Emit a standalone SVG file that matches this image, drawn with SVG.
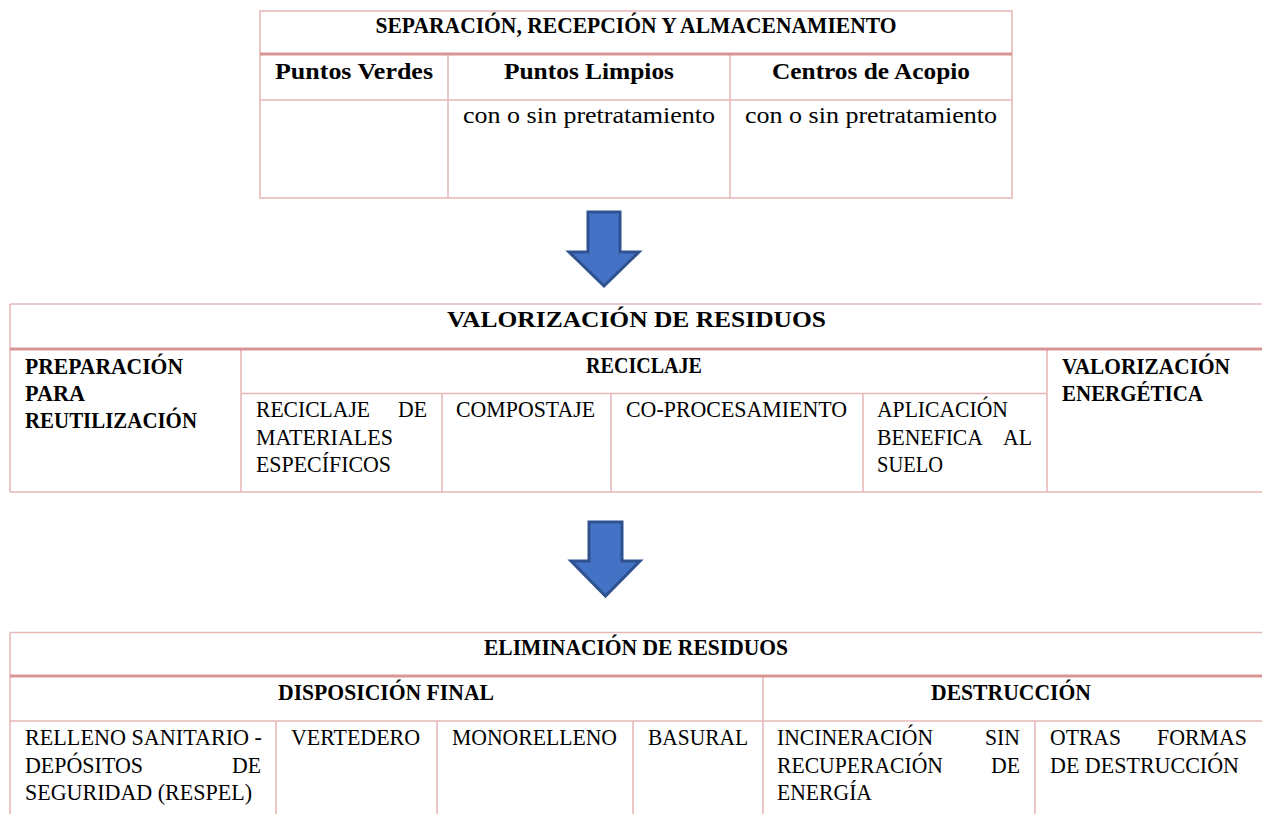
<svg xmlns="http://www.w3.org/2000/svg" width="1262" height="814" viewBox="0 0 1262 814">
<style>
.b{fill:none;stroke:#E6B9B8;stroke-width:1.6}
.t{fill:none;stroke:#D99594;stroke-width:3}
.h{font-family:"Liberation Serif","Times New Roman",serif;font-weight:bold;font-size:23.5px;fill:#000}
.r{font-family:"Liberation Serif","Times New Roman",serif;font-size:23.5px;fill:#000}
.m{text-anchor:middle}
.e{text-anchor:end}
.arrow{fill:#4472C4;stroke:#2F528F;stroke-width:3;stroke-linejoin:miter}
</style>
<rect width="1262" height="814" fill="#fff"/>

<g id="separacion">
<rect class="b" x="260" y="11" width="752" height="187"/>
<line class="b" x1="260" y1="100" x2="1012" y2="100"/>
<line class="b" x1="448" y1="54" x2="448" y2="198"/>
<line class="b" x1="730" y1="54" x2="730" y2="198"/>
<line class="t" x1="260" y1="54" x2="1012" y2="54"/>
<text class="h m" x="636" y="33" textLength="521" lengthAdjust="spacingAndGlyphs">SEPARACIÓN, RECEPCIÓN Y ALMACENAMIENTO</text>
<text class="h" x="275" y="79" textLength="158" lengthAdjust="spacingAndGlyphs">Puntos Verdes</text>
<text class="h m" x="589" y="79" textLength="170" lengthAdjust="spacingAndGlyphs">Puntos Limpios</text>
<text class="h m" x="871" y="79" textLength="198" lengthAdjust="spacingAndGlyphs">Centros de Acopio</text>
<text class="r m" x="589" y="123" textLength="252" lengthAdjust="spacingAndGlyphs">con o sin pretratamiento</text>
<text class="r m" x="871" y="123" textLength="252" lengthAdjust="spacingAndGlyphs">con o sin pretratamiento</text>
</g>

<g id="connectors">
<path class="arrow" d="M588,212 H620 V252 H639 L604,286 L569,252 H588 Z"/>
<path class="arrow" d="M589,522 H622 V561 H640 L605.5,596 L571,561 H589 Z"/>
</g>

<g id="valorizacion">
<line class="b" x1="10" y1="304" x2="1262" y2="304"/>
<line class="b" x1="10" y1="304" x2="10" y2="492"/>
<line class="b" x1="10" y1="492" x2="1262" y2="492"/>
<line class="b" x1="241" y1="349" x2="241" y2="492"/>
<line class="b" x1="1047" y1="349" x2="1047" y2="492"/>
<line class="b" x1="241" y1="393.5" x2="1047" y2="393.5"/>
<line class="b" x1="442" y1="393.5" x2="442" y2="492"/>
<line class="b" x1="611" y1="393.5" x2="611" y2="492"/>
<line class="b" x1="863" y1="393.5" x2="863" y2="492"/>
<line class="t" x1="10" y1="349" x2="1262" y2="349"/>
<text class="h m" x="636.5" y="327" textLength="379" lengthAdjust="spacingAndGlyphs">VALORIZACIÓN DE RESIDUOS</text>
<text class="h" x="25" y="374" textLength="158" lengthAdjust="spacingAndGlyphs">PREPARACIÓN</text>
<text class="h" x="25" y="401" textLength="60" lengthAdjust="spacingAndGlyphs">PARA</text>
<text class="h" x="25" y="428" textLength="172" lengthAdjust="spacingAndGlyphs">REUTILIZACIÓN</text>
<text class="h m" x="644" y="373" textLength="116" lengthAdjust="spacingAndGlyphs">RECICLAJE</text>
<text class="h" x="1062" y="374" textLength="168" lengthAdjust="spacingAndGlyphs">VALORIZACIÓN</text>
<text class="h" x="1062" y="401" textLength="141" lengthAdjust="spacingAndGlyphs">ENERGÉTICA</text>
<text class="r" x="256" y="417" textLength="114" lengthAdjust="spacingAndGlyphs">RECICLAJE</text>
<text class="r e" x="427" y="417" textLength="29" lengthAdjust="spacingAndGlyphs">DE</text>
<text class="r" x="256" y="444.5" textLength="137" lengthAdjust="spacingAndGlyphs">MATERIALES</text>
<text class="r" x="256" y="472" textLength="135" lengthAdjust="spacingAndGlyphs">ESPECÍFICOS</text>
<text class="r" x="456" y="417" textLength="139" lengthAdjust="spacingAndGlyphs">COMPOSTAJE</text>
<text class="r" x="626" y="417" textLength="221" lengthAdjust="spacingAndGlyphs">CO-PROCESAMIENTO</text>
<text class="r" x="877" y="417" textLength="131" lengthAdjust="spacingAndGlyphs">APLICACIÓN</text>
<text class="r" x="877" y="444.5" textLength="106" lengthAdjust="spacingAndGlyphs">BENEFICA</text>
<text class="r e" x="1032" y="444.5" textLength="29" lengthAdjust="spacingAndGlyphs">AL</text>
<text class="r" x="877" y="472" textLength="66" lengthAdjust="spacingAndGlyphs">SUELO</text>
</g>

<g id="eliminacion">
<line class="b" x1="10" y1="632.5" x2="1262" y2="632.5"/>
<line class="b" x1="10" y1="632.5" x2="10" y2="814"/>
<line class="b" x1="10" y1="721" x2="1262" y2="721"/>
<line class="b" x1="763" y1="676" x2="763" y2="814"/>
<line class="b" x1="276" y1="721" x2="276" y2="814"/>
<line class="b" x1="437" y1="721" x2="437" y2="814"/>
<line class="b" x1="633" y1="721" x2="633" y2="814"/>
<line class="b" x1="1035" y1="721" x2="1035" y2="814"/>
<line class="t" x1="10" y1="676" x2="1262" y2="676"/>
<text class="h m" x="636" y="655" textLength="304" lengthAdjust="spacingAndGlyphs">ELIMINACIÓN DE RESIDUOS</text>
<text class="h m" x="386" y="700" textLength="216" lengthAdjust="spacingAndGlyphs">DISPOSICIÓN FINAL</text>
<text class="h m" x="1011" y="700" textLength="160" lengthAdjust="spacingAndGlyphs">DESTRUCCIÓN</text>
<text class="r" x="25" y="745" textLength="237" lengthAdjust="spacingAndGlyphs">RELLENO SANITARIO -</text>
<text class="r" x="25" y="772.5" textLength="118" lengthAdjust="spacingAndGlyphs">DEPÓSITOS</text>
<text class="r e" x="261" y="772.5" textLength="29" lengthAdjust="spacingAndGlyphs">DE</text>
<text class="r" x="25" y="800" textLength="227" lengthAdjust="spacingAndGlyphs">SEGURIDAD (RESPEL)</text>
<text class="r" x="291" y="745" textLength="129" lengthAdjust="spacingAndGlyphs">VERTEDERO</text>
<text class="r" x="452" y="745" textLength="165" lengthAdjust="spacingAndGlyphs">MONORELLENO</text>
<text class="r" x="648" y="745" textLength="100" lengthAdjust="spacingAndGlyphs">BASURAL</text>
<text class="r" x="777" y="745" textLength="156" lengthAdjust="spacingAndGlyphs">INCINERACIÓN</text>
<text class="r e" x="1020" y="745" textLength="35" lengthAdjust="spacingAndGlyphs">SIN</text>
<text class="r" x="777" y="772.5" textLength="166" lengthAdjust="spacingAndGlyphs">RECUPERACIÓN</text>
<text class="r e" x="1020" y="772.5" textLength="29" lengthAdjust="spacingAndGlyphs">DE</text>
<text class="r" x="777" y="800" textLength="95" lengthAdjust="spacingAndGlyphs">ENERGÍA</text>
<text class="r" x="1050" y="745" textLength="71" lengthAdjust="spacingAndGlyphs">OTRAS</text>
<text class="r e" x="1247" y="745" textLength="90" lengthAdjust="spacingAndGlyphs">FORMAS</text>
<text class="r" x="1050" y="772.5" textLength="189" lengthAdjust="spacingAndGlyphs">DE DESTRUCCIÓN</text>
</g>
</svg>
